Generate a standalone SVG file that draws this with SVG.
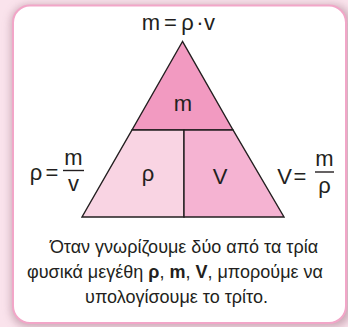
<svg xmlns="http://www.w3.org/2000/svg" width="348" height="327" viewBox="0 0 348 327">
<defs>
<filter id="sh" x="-10%" y="-10%" width="120%" height="120%">
<feGaussianBlur stdDeviation="4"/>
</filter>
<style>
.t{font-family:"Liberation Sans",Arial,sans-serif;fill:#231f20}
.lab{font-size:22px;text-anchor:middle}
.body{font-size:18px;text-anchor:middle}
.tri{stroke:#231f20;stroke-width:1.4;stroke-linejoin:miter}
</style>
</defs>
<rect width="348" height="327" fill="#fae3ec"/>
<rect x="11" y="5" width="340" height="322" rx="18" fill="#b48f9d" filter="url(#sh)" opacity="0.7"/>
<rect x="13" y="5.5" width="333" height="317.5" rx="17" fill="#ffffff" stroke="#f2a6c8" stroke-width="2"/>
<g id="formula-top" class="t lab">
<text x="151" y="29.5">m</text>
<text x="170.5" y="29.5">=</text>
<text x="187.5" y="29.5">ρ</text>
<text x="200" y="29.5">·</text>
<text x="209.5" y="29.5">v</text>
</g>
<g id="triangle">
<polygon id="top-m" class="tri" points="182.5,41.5 132,130 233,130" fill="#f29ac1"/>
<polygon id="left-rho" class="tri" points="132,130 184,130 184,217 82,217" fill="#f9d4e3"/>
<polygon id="right-v" class="tri" points="184,130 233,130 284,217 184,217" fill="#f5b3d2"/>
<text class="t lab" x="183" y="111">m</text>
<text class="t lab" x="148" y="181">ρ</text>
<text class="t lab" x="220" y="183.5">V</text>
</g>
<g id="formula-left" class="t lab">
<text x="36" y="180">ρ</text>
<text x="52" y="180">=</text>
<text x="73.5" y="165">m</text>
<line x1="63" y1="170.5" x2="84" y2="170.5" stroke="#231f20" stroke-width="1.4"/>
<text x="73.5" y="191">v</text>
</g>
<g id="formula-right" class="t lab">
<text x="284.5" y="183.5">V</text>
<text x="300" y="183.5">=</text>
<text x="324.5" y="166">m</text>
<line x1="315" y1="172" x2="334" y2="172" stroke="#231f20" stroke-width="1.4"/>
<text x="324.5" y="193">ρ</text>
</g>
<g id="caption" class="t body">
<text x="184" y="253">Όταν γνωρίζουμε δύο από τα τρία</text>
<text x="175" y="278">φυσικά μεγέθη <tspan font-weight="bold">ρ</tspan>, <tspan font-weight="bold">m</tspan>, <tspan font-weight="bold">V</tspan>, μπορούμε να</text>
<text x="176.5" y="303">υπολογίσουμε το τρίτο.</text>
</g>
</svg>
